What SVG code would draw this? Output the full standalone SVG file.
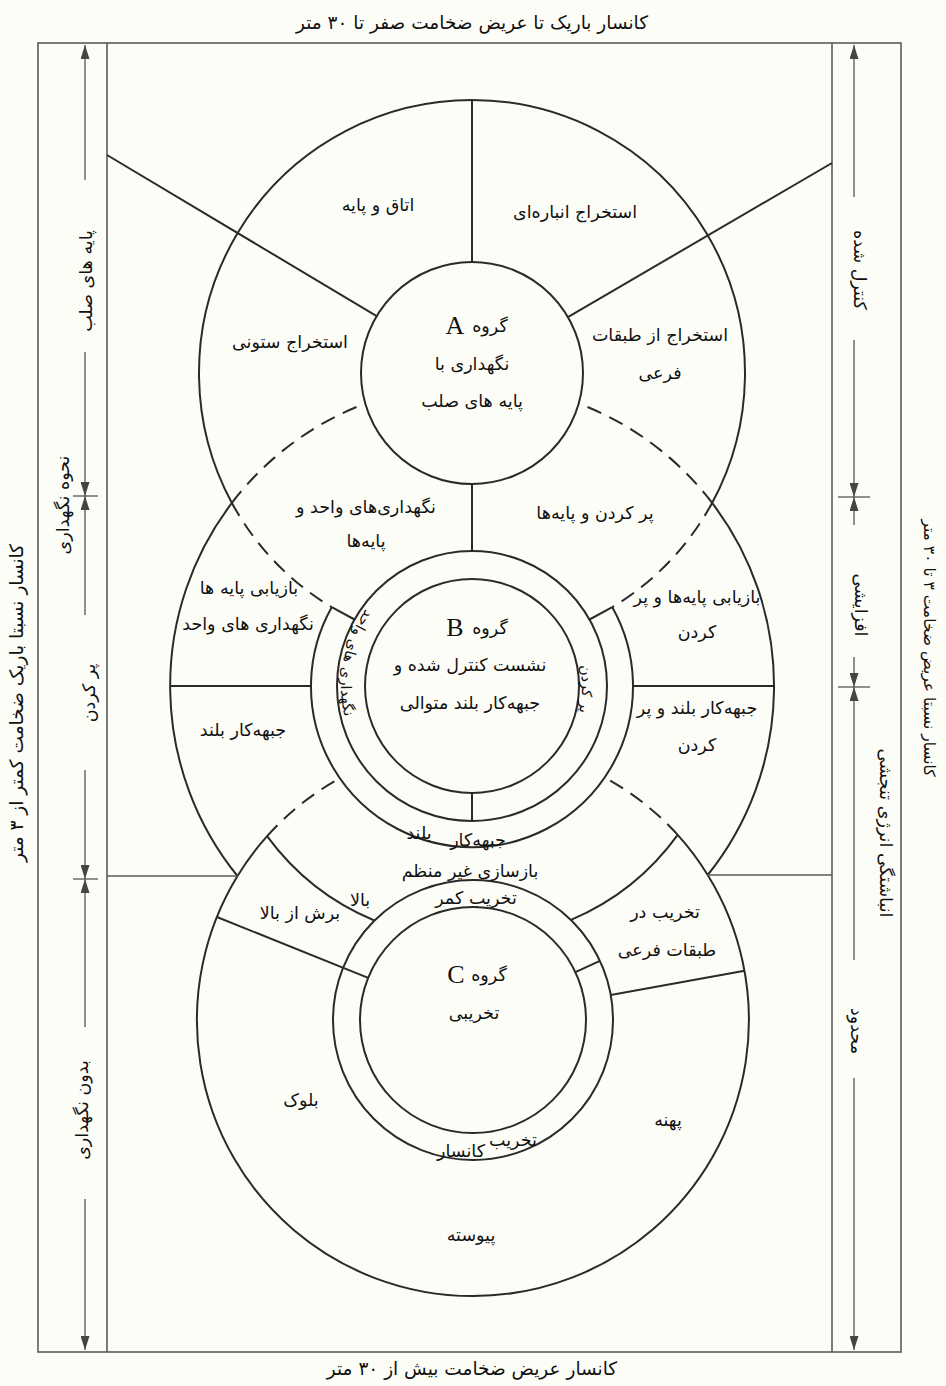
<svg xmlns="http://www.w3.org/2000/svg" width="946" height="1386" viewBox="0 0 946 1386">
<defs>
<style>
.ln{stroke:#2a2a2a;stroke-width:2;fill:none}
.dash{stroke-dasharray:15 9}
.fr{stroke:#5a5a5a;stroke-width:1.6;fill:none}
.ar{stroke:#555;stroke-width:1.3;fill:none}
.t{font-family:"DejaVu Sans",sans-serif;font-size:17.5px;fill:#111;text-anchor:middle;dominant-baseline:central;direction:rtl}
.s{font-size:14.5px}
.big{font-size:18.5px}
.sm{font-size:15.5px}
.g{font-family:"Liberation Serif",serif;font-size:26px;fill:#111;text-anchor:middle;dominant-baseline:central}
</style>
<marker id="ah" viewBox="0 0 14 9" refX="14" refY="4.5" markerWidth="14" markerHeight="9" markerUnits="userSpaceOnUse" orient="auto">
<path d="M0,0 L14,4.5 L0,9 z" fill="#444"/>
</marker>
<path id="ringL" d="M409,576.9 A126,126 0 0 0 353.6,729.1"/>
<path id="ringR" d="M560.1,612.1 A115,115 0 0 1 560.1,759.9"/>
</defs>
<rect x="0" y="0" width="946" height="1386" fill="#fdfdf8"/>

<g id="frame">
<rect class="fr" x="38" y="43" width="863" height="1309"/>
<line class="fr" x1="107" y1="43" x2="107" y2="1352"/>
<line class="fr" x1="832" y1="43" x2="832" y2="1352"/>
</g>

<g id="connectors">
<path class="ln" d="M231.9,502.9 A273,273 0 1 1 712.1,502.9"/>
<path class="ln dash" d="M231.9,502.9 A273,273 0 0 0 331.7,607.2"/>
<path class="ln dash" d="M712.1,502.9 A273,273 0 0 1 612.3,607.2"/>
<circle class="ln" cx="472" cy="373" r="111"/>
<line class="ln" x1="472" y1="100" x2="472" y2="262"/>
<line class="ln" x1="107" y1="155" x2="376.7" y2="316.1"/>
<line class="ln" x1="832" y1="163" x2="567.9" y2="317.1"/>
<line class="ln" x1="472" y1="484" x2="472" y2="551"/>
<path class="ln" d="M231.9,502.9 A302,302 0 0 0 237.5,876"/>
<path class="ln" d="M712.1,502.9 A302,302 0 0 1 707.7,875"/>
<path class="ln dash" d="M231.9,502.9 A302,302 0 0 1 365.3,403.5"/>
<path class="ln dash" d="M712.1,502.9 A302,302 0 0 0 578.7,403.5"/>
<circle class="ln" cx="472" cy="686" r="107"/>
<circle class="ln" cx="472" cy="686" r="135"/>
<path class="ln" d="M331.7,607.2 A161,161 0 1 0 612.3,607.2"/>
<line class="ln" x1="331.7" y1="607.2" x2="354.5" y2="619.5"/>
<line class="ln" x1="612.3" y1="607.2" x2="589.5" y2="619.5"/>
<line class="ln" x1="170" y1="686" x2="311" y2="686"/>
<line class="ln" x1="633" y1="686" x2="774" y2="686"/>
<line class="ln" x1="472" y1="793" x2="472" y2="821"/>
<path class="ln" d="M267.1,836.1 A254,254 0 0 0 374.4,920.5"/>
<path class="ln" d="M677.7,834.9 A254,254 0 0 1 571,919.9"/>
<path class="ln" d="M237.5,876 A276,276 0 1 0 707.7,875"/>
<path class="ln" d="M237.5,876 A276,276 0 0 1 267.1,836.1"/>
<path class="ln" d="M707.7,875 A276,276 0 0 0 677.7,834.9"/>
<path class="ln dash" d="M267.1,836.1 A276,276 0 0 1 340,778.2"/>
<path class="ln dash" d="M677.7,834.9 A276,276 0 0 0 604.6,777.4"/>
<circle class="ln" cx="473" cy="1020" r="113"/>
<circle class="ln" cx="473" cy="1020" r="140"/>
<line class="ln" x1="216.9" y1="917" x2="368.2" y2="977.9"/>
<line class="ln" x1="610.7" y1="995" x2="744.6" y2="970.7"/>
<line class="ln" x1="575.4" y1="972.2" x2="599.9" y2="960.8"/>
<line class="fr" x1="107" y1="876" x2="237.5" y2="876"/>
<line class="fr" x1="707.7" y1="875" x2="832" y2="875"/>
<line class="ar" x1="85" y1="180" x2="85" y2="45" marker-end="url(#ah)"/>
<line class="ar" x1="85" y1="352" x2="85" y2="496" marker-end="url(#ah)"/>
<line class="ar" x1="85" y1="615" x2="85" y2="496" marker-end="url(#ah)"/>
<line class="ar" x1="73" y1="496" x2="98" y2="496"/>
<line class="ar" x1="85" y1="770" x2="85" y2="879" marker-end="url(#ah)"/>
<line class="ar" x1="85" y1="1027" x2="85" y2="879" marker-end="url(#ah)"/>
<line class="ar" x1="73" y1="879" x2="98" y2="879"/>
<line class="ar" x1="85" y1="1199" x2="85" y2="1350" marker-end="url(#ah)"/>
<line class="ar" x1="854" y1="197" x2="854" y2="45" marker-end="url(#ah)"/>
<line class="ar" x1="854" y1="340" x2="854" y2="497" marker-end="url(#ah)"/>
<line class="ar" x1="854" y1="525" x2="854" y2="497" marker-end="url(#ah)"/>
<line class="ar" x1="838" y1="497" x2="870" y2="497"/>
<line class="ar" x1="854" y1="657" x2="854" y2="687" marker-end="url(#ah)"/>
<line class="ar" x1="854" y1="960" x2="854" y2="687" marker-end="url(#ah)"/>
<line class="ar" x1="838" y1="687" x2="870" y2="687"/>
<line class="ar" x1="854" y1="1078" x2="854" y2="1350" marker-end="url(#ah)"/>
</g>

<g id="titles">
<text class="t big" x="472" y="22">کانسار باریک تا عریض ضخامت صفر تا ۳۰ متر</text>
<text class="t big" x="472" y="1368">کانسار عریض ضخامت بیش از ۳۰ متر</text>
<text class="t big" transform="translate(16,703) rotate(-90)">کانسار نسبتا باریک ضخامت کمتر از ۳ متر</text>
<text class="t sm" transform="translate(929,648) rotate(90)">کانسار نسبتا عریض ضخامت ۳ تا ۳۰ متر</text>
</g>

<g id="left-scale">
<text class="t" transform="translate(86,281) rotate(-90)">پایه های صلب</text>
<text class="t" transform="translate(63,505) rotate(-90)">نحوه نگهداری</text>
<text class="t" transform="translate(89,693) rotate(-90)">پر کردن</text>
<text class="t" transform="translate(82,1110) rotate(-90)">بدون نگهداری</text>
</g>

<g id="right-scale">
<text class="t" transform="translate(860,270) rotate(90)">کنترل شده</text>
<text class="t" transform="translate(861,605) rotate(90)">افزایشی</text>
<text class="t" transform="translate(886,833) rotate(90)">انباشتگی انرژی تنجشی</text>
<text class="t" transform="translate(857,1031) rotate(90)">محدود</text>
</g>

<g id="groupA">
<text class="g" x="455" y="325">A</text>
<text class="t" x="490" y="326">گروه</text>
<text class="t" x="472" y="364">نگهداری با</text>
<text class="t" x="472" y="401">پایه های صلب</text>
</g>
<g id="a-room-pillar"><text class="t" x="378" y="205">اتاق و پایه</text></g>
<g id="a-shrinkage"><text class="t" x="575" y="212">استخراج انباره‌ای</text></g>
<g id="a-stope"><text class="t" x="290" y="342">استخراج ستونی</text></g>
<g id="a-sublevel"><text class="t" x="660" y="335">استخراج از طبقات</text><text class="t" x="660" y="373">فرعی</text></g>
<g id="ab-left"><text class="t" x="366" y="507">نگهداری‌های واحد و</text><text class="t" x="366" y="541">پایه‌ها</text></g>
<g id="ab-right"><text class="t" x="595" y="513">پر کردن و پایه‌ها</text></g>

<g id="groupB">
<text class="g" x="455" y="627">B</text>
<text class="t" x="490" y="628">گروه</text>
<text class="t" x="470" y="665">نشست کنترل شده و</text>
<text class="t" x="470" y="703">جبهه‌کار بلند متوالی</text>
</g>
<g id="b-ring-left"><text class="t s"><textPath href="#ringL" startOffset="61%">نگهداری های واحد</textPath></text></g>
<g id="b-ring-right"><text class="t s"><textPath href="#ringR" startOffset="52%">پر کردن</textPath></text></g>
<g id="b-left-upper"><text class="t" x="249" y="588">بازیابی پایه ها</text><text class="t" x="248" y="624">نگهداری های واحد</text></g>
<g id="b-right-upper"><text class="t" x="697" y="597">بازیابی پایه‌ها و پر</text><text class="t" x="697" y="632">کردن</text></g>
<g id="b-left-lower"><text class="t" x="243" y="730">جبهه‌کار بلند</text></g>
<g id="b-right-lower"><text class="t" x="697" y="708">جبهه‌کار بلند و پر</text><text class="t" x="697" y="745">کردن</text></g>
<g id="bc-overlap">
<text class="t" x="419" y="833">بلند</text>
<text class="t" x="478" y="840">جبهه‌کار</text>
<text class="t" x="470" y="871">بازسازی غیر منظم</text>
</g>

<g id="groupC">
<text class="g" x="456" y="974">C</text>
<text class="t" x="489" y="975">گروه</text>
<text class="t" x="474" y="1013">تخریبی</text>
</g>
<g id="c-hangingwall"><text class="t" x="476" y="898">تخریب کمر</text></g>
<g id="c-topslice"><text class="t" x="360" y="900">بالا</text><text class="t" x="300" y="913">برش از بالا</text></g>
<g id="c-sublevel"><text class="t" x="665" y="912">تخریب در</text><text class="t" x="667" y="950">طبقات فرعی</text></g>
<g id="c-ore"><text class="t" x="513" y="1140">تخریب</text><text class="t" x="461" y="1151">کانسار</text></g>
<g id="c-block"><text class="t" x="301" y="1100">بلوک</text></g>
<g id="c-panel"><text class="t" x="668" y="1120">پهنه</text></g>
<g id="c-continuous"><text class="t" x="471" y="1235">پیوسته</text></g>
</svg>
